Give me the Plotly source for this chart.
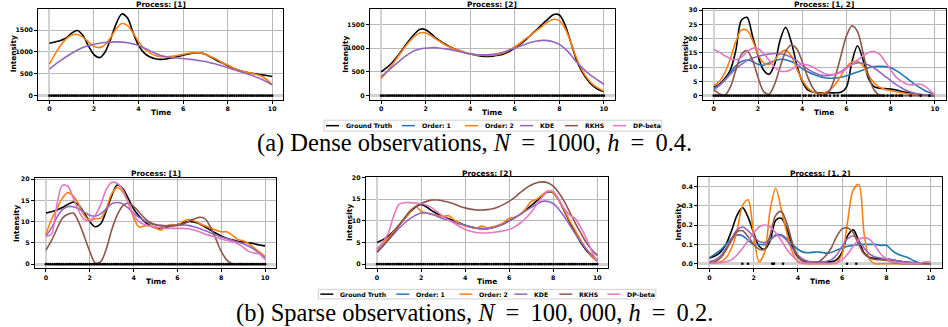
import plotly.graph_objects as go

# ---------------- data ----------------
NAMES = ["Ground Truth", "Order: 1", "Order: 2", "KDE", "RKHS", "DP-beta"]
COLORS = {"Ground Truth": "#000000", "Order: 1": "#1f77b4", "Order: 2": "#ff7f0e",
          "KDE": "#9467bd", "RKHS": "#8c564b", "DP-beta": "#e377c2"}

T = [0.0, 0.25, 0.5, 0.75, 1.0, 1.25, 1.5, 1.75, 2.0, 2.25, 2.5, 2.75, 3.0, 3.25, 3.5, 3.75,
     4.0, 4.25, 4.5, 4.75, 5.0, 5.25, 5.5, 5.75, 6.0, 6.25, 6.5, 6.75, 7.0, 7.25, 7.5, 7.75,
     8.0, 8.25, 8.5, 8.75, 9.0, 9.25, 9.5, 9.75, 10.0]

# (a) dense, process [1]
A1_TRUTH = [1200, 1230, 1260, 1320, 1430, 1490, 1380, 1140, 940, 870, 1000, 1300, 1650, 1870, 1780, 1450,
            1150, 980, 890, 845, 830, 840, 865, 895, 925, 955, 980, 980, 950, 880, 810, 750,
            690, 630, 580, 545, 520, 500, 480, 460, 440]
A1_ORDER2 = [720, 950, 1150, 1300, 1390, 1400, 1340, 1230, 1130, 1100, 1170, 1330, 1530, 1650, 1610, 1440,
             1240, 1080, 980, 920, 895, 890, 900, 920, 945, 970, 985, 980, 950, 890, 830, 760,
             700, 640, 590, 550, 520, 490, 450, 370, 250]
A1_KDE = [610, 710, 800, 890, 970, 1040, 1100, 1140, 1175, 1200, 1215, 1225, 1230, 1225, 1210, 1185,
          1150, 1090, 1030, 970, 920, 890, 870, 860, 850, 835, 820, 800, 780, 750, 720, 680,
          640, 600, 560, 520, 480, 430, 380, 320, 250]

# (a) dense, process [2]
A2_TRUTH = [500, 590, 700, 840, 1000, 1160, 1300, 1400, 1390, 1300, 1200, 1120, 1050, 995, 950, 910,
            880, 850, 830, 825, 830, 850, 880, 930, 1000, 1085, 1180, 1290, 1400, 1510, 1620, 1710,
            1700, 1500, 1150, 780, 520, 340, 210, 130, 90]
A2_ORDER2 = [360, 500, 650, 820, 980, 1130, 1250, 1325, 1320, 1260, 1180, 1110, 1040, 990, 950, 910,
             880, 860, 850, 845, 850, 870, 900, 960, 1030, 1110, 1200, 1290, 1380, 1470, 1560, 1610,
             1580, 1420, 1150, 820, 560, 370, 240, 160, 100]
A2_KDE = [400, 500, 600, 700, 800, 880, 950, 985, 1000, 1010, 1010, 995, 980, 955, 930, 905,
          880, 865, 860, 862, 870, 890, 920, 960, 1000, 1045, 1090, 1125, 1150, 1165, 1160, 1130,
          1080, 990, 870, 720, 600, 490, 400, 320, 240]

# (a) dense, process [1, 2]
A3_TRUTH = [3, 4, 6, 9, 16, 26.5, 27.5, 21, 14, 9, 7.5, 11, 19.5, 24, 19, 11,
            5, 2, 1.2, 1, 1, 1, 1, 1.2, 3, 12, 17.5, 12.5, 6, 3.2, 2.6, 2.5,
            2.3, 2, 1.5, 1.1, 0.8, 0.5, 0.3, 0.1, 0]
A3_ORDER1 = [2.5, 3.8, 5.5, 8, 10.5, 12, 12.5, 12, 11, 10.7, 11.5, 12.3, 12.8, 12.6, 12, 11,
             9.5, 8.4, 7.5, 6.8, 6.3, 6.1, 6.2, 6.5, 7, 7.6, 8.3, 9, 9.8, 10.2, 10.3, 10.2,
             9.8, 8.8, 7.5, 6, 4.5, 3.2, 2, 1.1, 0.5]
A3_ORDER2 = [3.5, 5, 8, 13, 19, 23, 23, 19.5, 14.5, 11.5, 11, 12.5, 15, 16, 14, 9.5,
             5.5, 2.8, 1.3, 0.8, 1, 2, 4, 7, 10, 11.8, 12, 10.5, 7, 4.5, 3, 2.2,
             1.8, 1.4, 1, 0.7, 0.5, 0.3, 0.2, 0.1, 0]
A3_KDE = [2, 3.5, 5.5, 7.5, 9.5, 11, 12.3, 13.2, 13.8, 14.3, 14.6, 14.8, 14.7, 14.3, 13.5, 12.3,
          10.8, 9.3, 8.2, 7.4, 7.0, 7.1, 7.6, 8.5, 9.8, 10.9, 11.5, 11.4, 10.8, 9.7, 8.3, 6.8,
          5.3, 3.9, 2.7, 1.7, 1.0, 0.5, 0.2, 0.1, 0]
A3_RKHS = [2, 0.7, 0.2, 3, 9, 14.5, 15.8, 12.5, 6.5, 1.5, 0.5, 4, 10, 15.5, 17.8, 16.5,
           12, 6.5, 2.5, 0.5, 0.3, 2, 7, 14, 21, 24.5, 22.5, 15, 7, 2, 0.2, 0,
           0, 0, 0, 0, 0, 0, 0, 0, 0]
A3_DP = [16.3, 15.3, 14, 13, 12.6, 13.5, 15.3, 16.6, 16.5, 14.8, 12.5, 10, 8.7, 8.5, 9.2, 10.3,
         11, 10.8, 10, 8.8, 7.8, 7.4, 7.5, 8.2, 9.5, 11, 12.5, 14, 15.2, 15.5, 14.5, 12,
         9, 6.5, 5, 4, 3.8, 4.1, 3.6, 2, 0.2]

# (b) sparse, process [1]
B1_TRUTH = [12, 12.3, 12.7, 13.3, 14, 14.6, 13.8, 12, 10, 8.8, 9.5, 12.5, 16, 18.6, 17.8, 15.5,
            13, 11.3, 10, 9.1, 8.5, 8.4, 8.7, 9, 9.3, 9.7, 10, 9.9, 9.5, 8.8, 8, 7.3,
            6.6, 6.1, 5.7, 5.4, 5.2, 5, 4.8, 4.5, 4.3]
B1_ORDER2 = [7, 10.5, 13, 15.5, 16.8, 16, 14, 11.5, 10.3, 10.7, 10.8, 13, 16.5, 18, 17, 14.5,
             11, 8.7, 9, 9, 8.5, 8, 9, 9.3, 9.2, 10, 10.5, 10.2, 9.6, 9, 8.5, 8,
             7.6, 7.6, 6.8, 5.8, 5.5, 4.8, 3.8, 2.8, 1.8]
B1_KDE = [6.5, 8.5, 11, 12.8, 13.5, 13.5, 13, 12.2, 11.5, 11.3, 11.8, 13, 14.2, 14.5, 14.2, 13.2,
          12, 11, 10.2, 9.6, 9.2, 9, 9, 9.1, 9.2, 9.2, 9.1, 8.8, 8.4, 7.9, 7.4, 6.9,
          6.4, 6, 5.6, 5.2, 4.8, 4.2, 3.5, 2.5, 1.5]
B1_RKHS = [3.3, 5.5, 8.3, 10.8, 11.7, 12, 9.8, 6.5, 3, 0.3, 0.6, 3.5, 8, 11.5, 13.7, 14.3,
           13.6, 12.2, 10.8, 9.8, 9.3, 9.1, 9, 9, 9.1, 9.4, 10, 10.6, 11, 10.7, 8.8, 6,
           3, 1, 0.1, 0, 0, 0, 0, 0, 0]
B1_DP = [6.5, 7, 14, 18.5, 18.3, 15.5, 12.5, 10.5, 10.2, 11.5, 14, 17.5, 19.2, 19, 17.5, 14.5,
         11.5, 10, 9.3, 9, 8.8, 8.5, 8.4, 8.4, 8.4, 8.4, 8.3, 8, 7.6, 7.1, 6.7, 6.3,
         5.9, 5.6, 5.3, 4.8, 4, 3, 2.6, 2.4, 1]

# (b) sparse, process [2]
B2_TRUTH = [5, 5.6, 6.4, 7.6, 9, 10.5, 12, 13.2, 13.8, 13.2, 12.3, 11.6, 11, 10.5, 10, 9.5,
            9, 8.6, 8.3, 8.2, 8.2, 8.4, 8.8, 9.3, 10, 10.7, 11.5, 12.5, 13.5, 14.6, 15.8, 16.7,
            16.5, 14.8, 12.3, 9.7, 7.2, 5, 3.2, 1.8, 0.7]
B2_ORDER2 = [3.5, 4.7, 6, 7.5, 9, 10.5, 12, 13.3, 12.2, 11.8, 11.5, 11.2, 11, 11.2, 10.2, 9.4,
             8.8, 8.5, 8.3, 8.8, 8.4, 8.6, 9, 9.6, 10.6, 10.8, 11.5, 12.8, 14.5, 15, 16, 16.9,
             16.5, 14.8, 12.5, 10, 7.8, 5.5, 3.5, 1.8, 0.7]
B2_KDE = [3, 4.2, 5.5, 6.9, 8.3, 9.5, 10.5, 11.3, 11.8, 11.8, 11.5, 11, 10.5, 10.1, 9.7, 9.3,
          9, 8.6, 8.3, 8.2, 8.2, 8.4, 8.8, 9.3, 10, 10.7, 11.5, 12.3, 13.1, 13.9, 14.5, 14.5,
          14, 12.7, 11, 9, 7, 5.2, 3.5, 2.2, 1]
B2_RKHS = [2.7, 4, 5.5, 7.2, 9, 10.7, 12.3, 13.3, 14, 14.5, 14.8, 14.8, 14.6, 14.3, 13.9, 13.4,
           13, 12.7, 12.5, 12.5, 12.6, 12.8, 13.2, 13.8, 14.5, 15.4, 16.5, 17.5, 18.3, 18.8, 19, 18.8,
           18, 16.5, 14.5, 12, 9.5, 7.2, 5, 3.3, 2]
B2_DP = [3.5, 5, 7, 11, 13.8, 14.2, 14.2, 14.1, 14, 13.6, 13, 12, 11, 10.2, 9.5, 8.7,
         8, 7.6, 7.3, 7.2, 7.2, 7.3, 7.5, 7.7, 8, 8.6, 9.5, 10.6, 12, 13.8, 15.5, 16.8,
         16.8, 15, 12.8, 11.3, 10.5, 8.5, 6, 3, 0.5]

# (b) sparse, process [1, 2]
B3_TRUTH = [0.03, 0.04, 0.06, 0.1, 0.17, 0.25, 0.29, 0.24, 0.16, 0.09, 0.075, 0.12, 0.225, 0.235, 0.18, 0.09,
            0.035, 0.015, 0.01, 0.01, 0.01, 0.01, 0.01, 0.02, 0.06, 0.145, 0.175, 0.12, 0.055, 0.032, 0.028, 0.026,
            0.024, 0.02, 0.015, 0.01, 0.007, 0.005, 0.003, 0.001, 0]
B3_ORDER1 = [0.03, 0.05, 0.07, 0.1, 0.13, 0.148, 0.145, 0.12, 0.1, 0.1, 0.1, 0.12, 0.15, 0.15, 0.13, 0.1,
             0.075, 0.06, 0.057, 0.06, 0.06, 0.055, 0.058, 0.07, 0.08, 0.09, 0.095, 0.1, 0.1, 0.1, 0.1, 0.095,
             0.095, 0.07, 0.05, 0.04, 0.03, 0.015, 0.005, 0.002, 0]
B3_ORDER2 = [0.005, 0.005, 0.01, 0.03, 0.08, 0.17, 0.3, 0.33, 0.15, 0.01, 0.06, 0.28, 0.39, 0.28, 0.16, 0.06,
             0.01, 0.002, 0, 0, 0, 0, 0, 0.005, 0.05, 0.22, 0.38, 0.41, 0.15, 0.02, 0, 0,
             0, 0, 0, 0, 0, 0, 0, 0, 0]
B3_KDE = [0.01, 0.02, 0.04, 0.08, 0.13, 0.175, 0.19, 0.17, 0.14, 0.115, 0.11, 0.125, 0.145, 0.145, 0.12, 0.08,
          0.045, 0.022, 0.012, 0.01, 0.01, 0.012, 0.02, 0.045, 0.09, 0.13, 0.143, 0.12, 0.08, 0.05, 0.035, 0.03,
          0.025, 0.02, 0.015, 0.01, 0.007, 0.004, 0.002, 0.001, 0]
B3_RKHS = [0.005, 0.01, 0.03, 0.07, 0.12, 0.165, 0.17, 0.14, 0.1, 0.075, 0.075, 0.15, 0.25, 0.27, 0.21, 0.11,
           0.04, 0.01, 0.002, 0.005, 0.015, 0.04, 0.08, 0.14, 0.18, 0.185, 0.16, 0.1, 0.05, 0.03, 0.022, 0.02,
           0.018, 0.01, 0.003, 0, 0, 0, 0, 0, 0]
B3_DP = [0.002, 0.003, 0.005, 0.01, 0.02, 0.045, 0.08, 0.12, 0.16, 0.19, 0.2, 0.19, 0.16, 0.12, 0.075, 0.04,
         0.015, 0.005, 0.002, 0.001, 0.001, 0.001, 0.001, 0.005, 0.02, 0.05, 0.09, 0.125, 0.135, 0.125, 0.09, 0.05,
         0.025, 0.01, 0.005, 0.003, 0.002, 0.002, 0.004, 0.01, 0.01]

# observed event times (shown as dots at intensity 0)
EVENTS_DENSE = [0.0, 0.1, 0.2, 0.3, 0.4, 0.5, 0.6, 0.7, 0.8, 0.9, 1.0, 1.1, 1.2, 1.3, 1.4, 1.5, 1.6, 1.7,
                1.8, 1.9, 2.0, 2.1, 2.2, 2.3, 2.4, 2.5, 2.6, 2.7, 2.8, 2.9, 3.0, 3.1, 3.2, 3.3, 3.4, 3.5,
                3.6, 3.7, 3.8, 3.9, 4.0, 4.1, 4.2, 4.3, 4.4, 4.5, 4.6, 4.7, 4.8, 4.9, 5.0, 5.1, 5.2, 5.3,
                5.4, 5.5, 5.6, 5.7, 5.8, 5.9, 6.0, 6.1, 6.2, 6.3, 6.4, 6.5, 6.6, 6.7, 6.8, 6.9, 7.0, 7.1,
                7.2, 7.3, 7.4, 7.5, 7.6, 7.7, 7.8, 7.9, 8.0, 8.1, 8.2, 8.3, 8.4, 8.5, 8.6, 8.7, 8.8, 8.9,
                9.0, 9.1, 9.2, 9.3, 9.4, 9.5, 9.6, 9.7, 9.8, 9.9, 10.0]
EVENTS_A3 = [0.0, 0.1, 0.2, 0.3, 0.4, 0.5, 0.6, 0.7, 0.8, 0.9, 1.0, 1.1, 1.2, 1.3, 1.4, 1.5, 1.6, 1.7,
             1.8, 1.9, 2.0, 2.1, 2.2, 2.3, 2.4, 2.5, 2.6, 2.7, 2.8, 2.9, 3.0, 3.1, 3.2, 3.3, 3.4, 3.5,
             3.6, 3.7, 3.8, 3.9, 4.05, 4.15, 4.3, 4.4, 4.55, 4.7, 4.85, 5.0, 5.1, 5.25, 5.45, 5.6,
             5.8, 5.9, 6.0, 6.1, 6.2, 6.3, 6.4, 6.5, 6.6, 6.7, 6.8, 6.9, 7.0, 7.1, 7.2, 7.3, 7.4, 7.5,
             7.6, 7.7, 7.85, 8.0, 8.1, 8.25, 8.4, 8.5, 8.9, 9.35, 9.75]
EVENTS_B3 = [1.49, 1.75, 2.84, 2.88, 2.92, 3.33, 6.22, 6.64]

Y_TICKS_A12 = [0, 500, 1000, 1500]
Y_TICKS_A3 = [0, 5, 10, 15, 20, 25, 30]
Y_TICKS_B12 = [0, 5, 10, 15, 20]
Y_TICKS_B3 = [0.0, 0.1, 0.2, 0.3, 0.4]
X_TICKS = [0, 2, 4, 6, 8, 10]

TS = "\u2009"  # thin space (math spacing around "=")
CAPTION_A = f"(a) Dense observations, <i>N</i> {TS}={TS} 1000, <i>h</i> {TS}={TS} 0.4."
CAPTION_B = f"(b) Sparse observations, <i>N</i> {TS}={TS} 100, 000, <i>h</i> {TS}={TS} 0.2."

# ---------------- layout helpers ----------------
W, H = 948, 327


def px(x):
    return x / W


def py(y):
    return 1 - y / H


PANELS = [
    dict(title="Process: [1]", xs=(38.3, 283.3), ys=(6, 97.7), yr=[-94.5, 1984], yt=Y_TICKS_A12,
         series=[("Ground Truth", A1_TRUTH), ("Order: 2", A1_ORDER2), ("KDE", A1_KDE)],
         events=EVENTS_DENSE, ylab_x=13),
    dict(title="Process: [2]", xs=(370, 615), ys=(6, 97.7), yr=[-87, 1827], yt=Y_TICKS_A12,
         series=[("Ground Truth", A2_TRUTH), ("Order: 2", A2_ORDER2), ("KDE", A2_KDE)],
         events=EVENTS_DENSE, ylab_x=345.5),
    dict(title="Process: [1, 2]", xs=(702.7, 946), ys=(6, 97.7), yr=[-1.45, 30.45], yt=Y_TICKS_A3,
         series=[("Ground Truth", A3_TRUTH), ("Order: 1", A3_ORDER1), ("Order: 2", A3_ORDER2),
                 ("KDE", A3_KDE), ("RKHS", A3_RKHS), ("DP-beta", A3_DP)],
         events=EVENTS_A3, ylab_x=685.5),
    dict(title="Process: [1]", xs=(35, 276), ys=(176.5, 267.7), yr=[-0.965, 20.27], yt=Y_TICKS_B12,
         series=[("Ground Truth", B1_TRUTH), ("Order: 2", B1_ORDER2), ("KDE", B1_KDE),
                 ("RKHS", B1_RKHS), ("DP-beta", B1_DP)],
         events=EVENTS_DENSE, ylab_x=16),
    dict(title="Process: [2]", xs=(366, 608.3), ys=(175.5, 267.7), yr=[-0.96, 20.16], yt=Y_TICKS_B12,
         series=[("Ground Truth", B2_TRUTH), ("Order: 2", B2_ORDER2), ("KDE", B2_KDE),
                 ("RKHS", B2_RKHS), ("DP-beta", B2_DP)],
         events=EVENTS_DENSE, ylab_x=349.5),
    dict(title="Process: [1, 2]", xs=(698.3, 941.7), ys=(176, 267.3), yr=[-0.02125, 0.44625], yt=Y_TICKS_B3,
         series=[("Ground Truth", B3_TRUTH), ("Order: 1", B3_ORDER1), ("Order: 2", B3_ORDER2),
                 ("KDE", B3_KDE), ("RKHS", B3_RKHS), ("DP-beta", B3_DP)],
         events=EVENTS_B3, ylab_x=679, yfmt=".1f"),
]

BOLD = dict(family="DejaVu Sans", color="black", weight="bold")
GRID = "#b8b8b8"

fig = go.Figure()
annotations = []
shapes = []

for i, p in enumerate(PANELS):
    n = "" if i == 0 else str(i + 1)
    xa, ya = "x" + n, "y" + n
    for name, vals in p["series"]:
        fig.add_trace(go.Scatter(
            x=T, y=vals, mode="lines", name=name, xaxis=xa, yaxis=ya,
            line=dict(color=COLORS[name], width=1.6, shape="spline", smoothing=0.9),
            showlegend=False, hoverinfo="skip"))
    fig.add_trace(go.Scatter(
        x=p["events"], y=[0] * len(p["events"]), mode="markers", xaxis=xa, yaxis=ya,
        marker=dict(color="black", size=2.6, line=dict(width=0)), showlegend=False, hoverinfo="skip"))

    x0, x1 = p["xs"]
    y0, y1 = p["ys"]
    fig.layout["xaxis" + n] = dict(
        domain=[px(x0), px(x1)], anchor=ya, range=[-0.5, 10.5], tickvals=X_TICKS,
        showgrid=True, gridcolor=GRID, gridwidth=1, zeroline=True, zerolinecolor="#d2d2d2", zerolinewidth=2,
        showline=True, mirror=True, linecolor="black", linewidth=1.2,
        ticks="outside", ticklen=3, tickwidth=1, tickcolor="black",
        tickfont=dict(size=6.3, **BOLD), fixedrange=True)
    fig.layout["yaxis" + n] = dict(
        domain=[py(y1), py(y0)], anchor=xa, range=p["yr"], tickvals=p["yt"],
        tickformat=p.get("yfmt", ""),
        showgrid=True, gridcolor=GRID, gridwidth=1, zeroline=True, zerolinecolor="#d2d2d2", zerolinewidth=3,
        showline=True, mirror=True, linecolor="black", linewidth=1.2,
        ticks="outside", ticklen=3, tickwidth=1, tickcolor="black",
        tickfont=dict(size=6.3, **BOLD), fixedrange=True)

    cx = (x0 + x1) / 2
    title_y = 1.8 if y0 < 50 else 171.8
    annotations.append(dict(text=p["title"], x=px(cx), y=py(title_y), xref="paper", yref="paper",
                            xanchor="center", yanchor="middle", showarrow=False, font=dict(size=7.4, **BOLD)))
    time_y = 110.8 if y0 < 50 else 280.6
    annotations.append(dict(text="Time", x=px(cx), y=py(time_y), xref="paper", yref="paper",
                            xanchor="center", yanchor="middle", showarrow=False, font=dict(size=7.4, **BOLD)))
    annotations.append(dict(text="Intensity", x=px(p["ylab_x"]), y=py((y0 + y1) / 2), xref="paper",
                            yref="paper", xanchor="center", yanchor="middle", textangle=-90,
                            showarrow=False, font=dict(size=7.4, **BOLD)))

# ---------------- legends (one per row) ----------------
LEGEND_ROWS = [(324, 118.3, 129.3), (318.3, 289, 298.7)]
LEGEND_WIDTH = 337.5
ITEM_OFFSETS = [2, 78, 141, 196, 241, 289]
for lx, ly0, ly1 in LEGEND_ROWS:
    shapes.append(dict(type="rect", xref="paper", yref="paper", x0=px(lx), x1=px(lx + LEGEND_WIDTH),
                       y0=py(ly1), y1=py(ly0), line=dict(color="#d0d0d0", width=1), fillcolor="white",
                       layer="above"))
    cy = (ly0 + ly1) / 2
    for name, off in zip(NAMES, ITEM_OFFSETS):
        shapes.append(dict(type="line", xref="paper", yref="paper", x0=px(lx + off), x1=px(lx + off + 13),
                           y0=py(cy), y1=py(cy), line=dict(color=COLORS[name], width=1.5), layer="above"))
        annotations.append(dict(text=name, x=px(lx + off + 17.5), y=py(cy + 0.2), xref="paper", yref="paper",
                                xanchor="left", yanchor="middle", showarrow=False,
                                font=dict(size=6.2, **BOLD)))

# ---------------- captions ----------------
for cap, cy in [(CAPTION_A, 141.0), (CAPTION_B, 313.0)]:
    annotations.append(dict(text=cap, x=0.5, y=py(cy), xref="paper", yref="paper", xanchor="center",
                            yanchor="middle", showarrow=False,
                            font=dict(family="Liberation Serif", size=24.5, color="black")))

fig.update_layout(
    width=W, height=H, margin=dict(l=0, r=0, t=0, b=0),
    paper_bgcolor="white", plot_bgcolor="white", showlegend=False,
    annotations=annotations, shapes=shapes,
)

fig.write_html("out.html", config={"displayModeBar": False})
